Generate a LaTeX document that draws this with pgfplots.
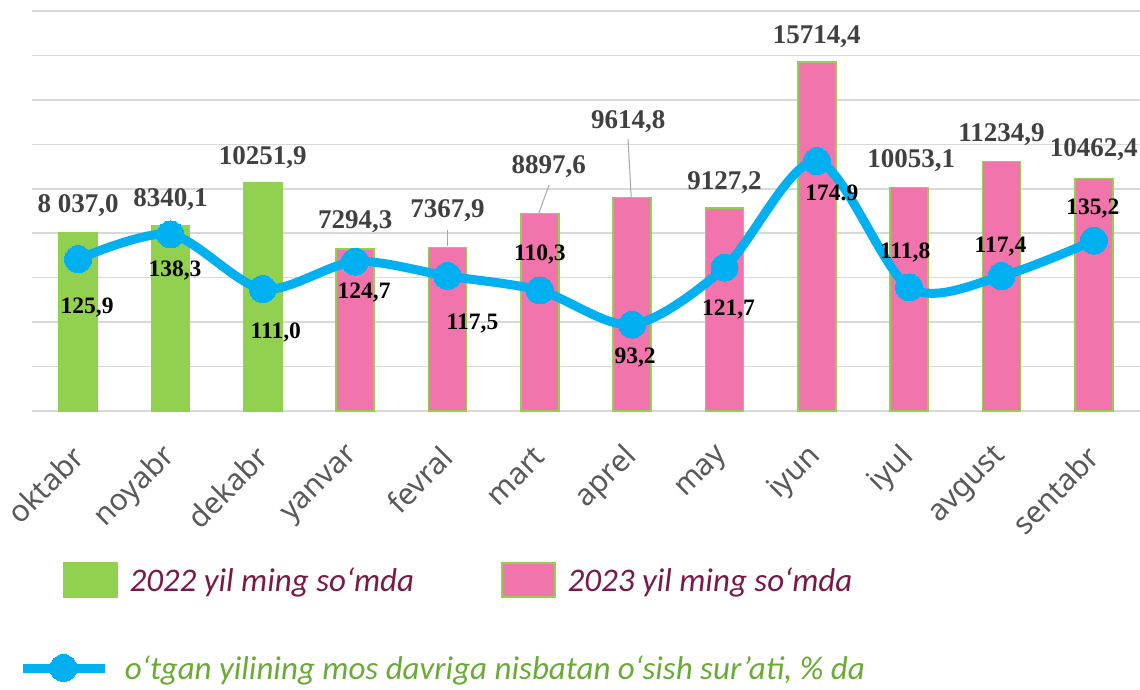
\documentclass[border=0pt]{standalone}
\usepackage{fontspec}
\setmainfont{Liberation Serif}
\newfontfamily\tickfont{Noto Sans}
\newfontfamily\legfont{Carlito}
\usepackage{pgfplots}
\pgfplotsset{compat=1.18}
\definecolor{barg}{HTML}{92D050}
\definecolor{barp}{HTML}{F274AD}
\definecolor{lineb}{HTML}{00B0F0}
\definecolor{gridc}{HTML}{D9D9D9}
\definecolor{labc}{HTML}{404040}
\definecolor{tickc}{HTML}{595959}
\definecolor{legm}{HTML}{7A1947}
\definecolor{legg}{HTML}{6AAB35}
\definecolor{leadc}{HTML}{A6A6A6}
\begin{document}
\begin{tikzpicture}
\useasboundingbox (-32pt,-278pt) rectangle (1108pt,411pt);
\begin{axis}[
  at={(0pt,0pt)}, anchor=south west,
  width=1108pt, height=400pt, scale only axis,
  xmin=-0.5, xmax=11.5, ymin=0, ymax=18000,
  ybar, bar width=38pt,
  xtick={0,...,11},
  xticklabels={oktabr,noyabr,dekabr,yanvar,fevral,mart,aprel,may,iyun,iyul,avgust,sentabr},
  ytick={0,2000,...,18000}, ymajorticks=false,
  ymajorgrids, grid style={gridc, line width=1.5pt},
  axis line style={draw=none}, major tick length=0pt,
  xticklabel style={font=\tickfont\fontsize{30}{34}\selectfont, text=tickc, inner sep=0pt, yshift=-41pt, rotate=45, anchor=east},
  clip=false,
  nodes near coords, point meta=explicit symbolic,
  visualization depends on={value \thisrow{dx}\as\dx},
  visualization depends on={value \thisrow{dy}\as\dy},
  nodes near coords style={font=\bfseries\fontsize{27}{32}\selectfont, text=labc, anchor=center, xshift=\dx pt, yshift=\dy pt},
  legend columns=2,
  legend style={at={(axis description cs:0.028,-0.4225)}, anchor=west, draw=none, fill=none, inner sep=0pt, outer sep=0pt,
    font=\legfont\itshape\fontsize{33}{38}\selectfont,
    nodes={inner sep=0pt},
    /tikz/every odd column/.append style={column sep=12pt},
    /tikz/every even column/.append style={column sep=87pt}},
  legend image code/.code={\fill[#1] (0pt,-17pt) rectangle (53pt,17pt);},
]
\addplot[fill=barg, draw=barg, line width=1.5pt, bar shift=0pt] table[x=x, y=y, meta=label] {
x y label dx dy
0 8037.0 {8 037,0} 0 26.5
1 8340.1 {8340,1} 0 25.7
2 10251.9 {10251,9} 0 26
};
\addlegendentry{\textcolor{legm}{2022 yil ming so‘mda}}
\addplot[fill=barp, draw=barg, line width=1.5pt, bar shift=0pt] table[x=x, y=y, meta=label] {
x y label dx dy
3 7294.3 {7294,3} 0 27
4 7367.9 {7367,9} 0 37
5 8897.6 {8897,6} 9 47
6 9614.8 {9614,8} -4 76
7 9127.2 {9127,2} 0 26
8 15714.4 {15714,4} 0 25
9 10053.1 {10053,1} 2 27
10 11234.9 {11234,9} 0 27
11 10462.4 {10462,4} 0 28.5
};
\addlegendentry{\textcolor{legm}{2023 yil ming so‘mda}}
\draw[leadc, line width=1pt] (axis cs:4,8145) -- (axis cs:4,7425);
\draw[leadc, line width=1pt] (axis cs:5.10,10170) -- (axis cs:4.99,8910);
\draw[leadc, line width=1pt] (axis cs:5.955,12240) -- (axis cs:5.99,9630);
\end{axis}
\begin{axis}[
  at={(0pt,0pt)}, anchor=south west,
  width=1108pt, height=400pt, scale only axis,
  xmin=-0.5, xmax=11.5, ymin=50, ymax=250,
  hide axis, clip=false,
  nodes near coords, point meta=explicit symbolic,
  visualization depends on={value \thisrow{dx}\as\dx},
  visualization depends on={value \thisrow{dy}\as\dy},
  nodes near coords style={font=\bfseries\fontsize{23.5}{28}\selectfont, text=black, anchor=center, xshift=\dx pt, yshift=\dy pt},
  legend style={at={(axis description cs:-0.01264,-0.6425)}, anchor=west, draw=none, fill=none, inner sep=0pt, outer sep=0pt,
    font=\legfont\itshape\fontsize{33}{38}\selectfont,
    nodes={inner sep=0pt},
    /tikz/every odd column/.append style={column sep=16pt}},
  legend image code/.code={\draw[mark repeat=2, mark phase=2, #1] plot coordinates {(0pt,0pt) (41pt,0pt) (82pt,0pt)};},
]
\addplot[lineb, line width=9pt, smooth, mark=*, mark size=13.5pt, mark options={fill=lineb, draw=lineb, line width=0pt}] table[x=x, y=y, meta=label] {
x y label dx dy
0 125.9 {125,9} 9 -48
1 138.3 {138,3} 4.5 -36
2 111.0 {111,0} 13 -43
3 124.7 {124,7} 9 -31
4 117.5 {117,5} 25 -48
5 110.3 {110,3} 0 36
6 93.2 {93,2} 3 -33
7 121.7 {121,7} 4 -42
8 174.9 {174.9} 15 -32
9 111.8 {111,8} -4 35
10 117.4 {117,4} -1 30
11 135.2 {135,2} -1 32
};
\addlegendentry{\textcolor{legg}{o‘tgan yilining mos davriga nisbatan o‘sish sur’ati, \% da}}
\end{axis}
\end{tikzpicture}
\end{document}
